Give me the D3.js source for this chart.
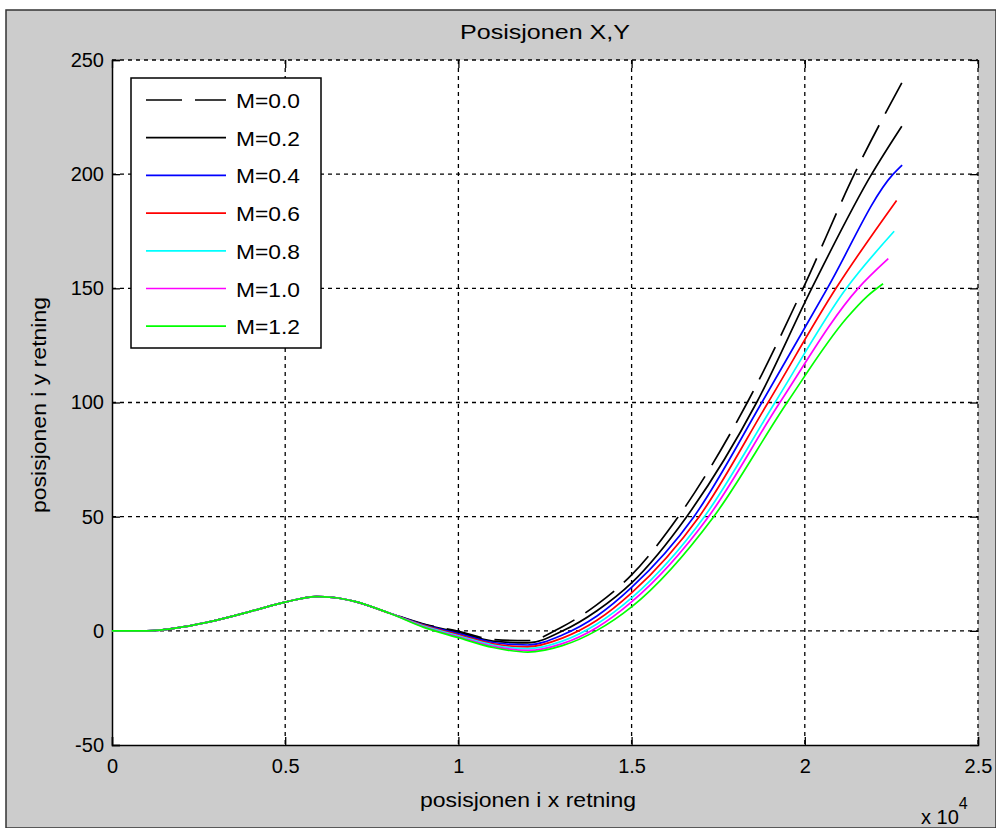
<!DOCTYPE html>
<html>
<head>
<meta charset="utf-8">
<script src="https://cdn.jsdelivr.net/npm/d3@7"></script>
<style>
  body { margin: 0; background: #fff; }
  text { font-family: "Liberation Sans", Arial, sans-serif; fill: #000; }
</style>
</head>
<body>
<script>
// Data (x in units of 10^4)

var labels = ["M=0.0", "M=0.2", "M=0.4", "M=0.6", "M=0.8", "M=1.0", "M=1.2"];
var colors = ["#000000", "#000000", "#0000ff", "#ff0000", "#00ffff", "#ff00ff", "#00ff00"];

var xTicks = [0, 0.5, 1, 1.5, 2, 2.5];
var yTicks = [-50, 0, 50, 100, 150, 200, 250];

// shared start of all paths
var trunk = [[0, 0], [0.1, 0], [0.2, 1.6], [0.3, 4.6], [0.4, 8.5], [0.5, 12.6],
  [0.59, 15], [0.64, 14.6], [0.7, 12.9], [0.8, 7.8]];

var m00 = [[0.9, 3.0], [1.0, -0.2], [1.1, -3.8], [1.2, -4.3], [1.3, 1.8], [1.4, 11.5],
  [1.5, 24.5], [1.635, 50], [1.834, 100], [1.995, 150], [2.143, 200], [2.28, 240]];
var m02 = [[0.9, 2.8], [1.0, -0.7], [1.1, -4.5], [1.2, -5.3], [1.3, -0.1], [1.4, 8.8],
  [1.5, 21], [1.659, 50], [1.861, 100], [2.02, 150], [2.193, 200], [2.28, 221]];
var m04 = [[0.9, 2.6], [1.0, -1.2], [1.1, -5.1], [1.2, -6.2], [1.3, -1.8], [1.4, 6.5],
  [1.5, 19], [1.68, 50], [1.876, 100], [2.065, 150], [2.255, 200], [2.281, 204]];
var m06 = [[0.9, 2.4], [1.0, -1.7], [1.1, -5.7], [1.2, -7.0], [1.3, -3.2], [1.4, 4.6],
  [1.5, 16.6], [1.695, 50], [1.894, 100], [2.09, 150], [2.265, 188.5]];
var m08 = [[0.9, 2.1], [1.0, -2.2], [1.1, -6.2], [1.2, -7.8], [1.3, -4.5], [1.4, 3.0],
  [1.5, 14.4], [1.71, 50], [1.914, 100], [2.12, 150], [2.258, 175]];
var m10 = [[0.9, 1.8], [1.0, -2.6], [1.1, -6.8], [1.2, -8.6], [1.3, -5.6], [1.4, 1.5],
  [1.5, 12.7], [1.722, 50], [1.928, 100], [2.154, 150], [2.241, 163]];
var m12 = [[0.9, 1.5], [1.0, -3.0], [1.1, -7.3], [1.2, -9.3], [1.3, -6.5], [1.4, 0.2],
  [1.5, 10.5], [1.737, 50], [1.949, 100], [2.121, 137], [2.18, 146.5], [2.226, 152]];

var series = [m00, m02, m04, m06, m08, m10, m12].map(function(d) {
  return trunk.concat(d);
});

/*
-----SVG-----
*/
var w = 996;
var h = 828;

var svg = d3.select("body")
  .append("svg")
  .attr("width", w)
  .attr("height", h);

// figure background
svg.append("rect")
  .attr("x", 6).attr("y", 10)
  .attr("width", w - 6).attr("height", h - 10)
  .attr("fill", "#cccccc")
  .attr("stroke", "#333")
  .attr("stroke-width", 1.5);

var pLeft = 112, pRight = 978, pTop = 60, pBottom = 745;

var x = d3.scaleLinear().domain([0, 2.5]).range([pLeft, pRight]);
var y = d3.scaleLinear().domain([-50, 250]).range([pBottom, pTop]);

svg.append("rect")
  .attr("x", pLeft).attr("y", pTop)
  .attr("width", pRight - pLeft).attr("height", pBottom - pTop)
  .attr("fill", "#fff");

/*
-----Grid-----
*/
var grid = svg.append("g")
  .attr("stroke", "#000")
  .attr("stroke-width", 1.3)
  .attr("stroke-dasharray", "4,4");

grid.selectAll(".gx")
  .data(xTicks.slice(1))
  .enter()
  .append("line")
  .attr("x1", function(d) { return x(d); })
  .attr("x2", function(d) { return x(d); })
  .attr("y1", pTop)
  .attr("y2", pBottom);

grid.selectAll(".gy")
  .data(yTicks.slice(1))
  .enter()
  .append("line")
  .attr("x1", pLeft)
  .attr("x2", pRight)
  .attr("y1", function(d) { return y(d); })
  .attr("y2", function(d) { return y(d); });

/*
-----Axes-----
*/
var plain = function(d) { return String(d); };

var xAxis = svg.append("g")
  .attr("transform", "translate(0," + pBottom + ")")
  .call(d3.axisBottom(x).tickValues(xTicks).tickSize(-8).tickPadding(14).tickFormat(plain));
var xAxisTop = svg.append("g")
  .attr("transform", "translate(0," + pTop + ")")
  .call(d3.axisTop(x).tickValues(xTicks).tickSize(-8).tickFormat(""));
var yAxis = svg.append("g")
  .attr("transform", "translate(" + pLeft + ",0)")
  .call(d3.axisLeft(y).tickValues(yTicks).tickSize(-8).tickPadding(8).tickFormat(plain));
var yAxisRight = svg.append("g")
  .attr("transform", "translate(" + pRight + ",0)")
  .call(d3.axisRight(y).tickValues(yTicks).tickSize(-8).tickFormat(""));

[xAxis, xAxisTop, yAxis, yAxisRight].forEach(function(a) {
  a.attr("font-size", 20).attr("font-family", "Liberation Sans, Arial, sans-serif");
  a.selectAll("text").attr("fill", "#000");
  a.selectAll("line").attr("stroke", "#000").attr("stroke-width", 1.3);
});
xAxisTop.select(".domain").remove();
yAxisRight.select(".domain").remove();
xAxis.select(".domain").attr("stroke", "#000").attr("stroke-width", 1.5);
yAxis.select(".domain").attr("stroke", "#000").attr("stroke-width", 1.5);

/*
-----Lines-----
*/
var line = d3.line()
  .x(function(d) { return x(d[0]); })
  .y(function(d) { return y(d[1]); })
  .curve(d3.curveMonotoneX);

svg.selectAll(".traj")
  .data(series)
  .enter()
  .append("path")
  .attr("class", "traj")
  .attr("d", line)
  .attr("fill", "none")
  .attr("stroke", function(d, i) { return colors[i]; })
  .attr("stroke-width", 1.7)
  .attr("stroke-dasharray", function(d, i) { return i == 0 ? "36,13" : null; });

/*
-----Legend-----
*/
var legend = svg.append("g");

legend.append("rect")
  .attr("x", 131).attr("y", 78)
  .attr("width", 190).attr("height", 270)
  .attr("fill", "#fff")
  .attr("stroke", "#000")
  .attr("stroke-width", 1.5);

var rows = legend.selectAll(".row")
  .data(labels)
  .enter()
  .append("g")
  .attr("transform", function(d, i) { return "translate(0," + (100 + i * 37.7) + ")"; });

rows.append("line")
  .attr("x1", 146).attr("x2", 226)
  .attr("stroke", function(d, i) { return colors[i]; })
  .attr("stroke-width", 1.7)
  .attr("stroke-dasharray", function(d, i) { return i == 0 ? "36,13" : null; });

rows.append("text")
  .attr("x", 236)
  .attr("y", 8)
  .attr("font-size", 21)
  .attr("textLength", 64)
  .attr("lengthAdjust", "spacingAndGlyphs")
  .text(function(d) { return d; });

/*
-----Labels-----
*/
svg.append("text")
  .attr("x", 545).attr("y", 39)
  .attr("text-anchor", "middle")
  .attr("font-size", 21)
  .attr("textLength", 170)
  .attr("lengthAdjust", "spacingAndGlyphs")
  .text("Posisjonen X,Y");

svg.append("text")
  .attr("x", 528).attr("y", 807)
  .attr("text-anchor", "middle")
  .attr("font-size", 21)
  .attr("textLength", 216)
  .attr("lengthAdjust", "spacingAndGlyphs")
  .text("posisjonen i x retning");

svg.append("text")
  .attr("transform", "translate(46,405) rotate(-90)")
  .attr("text-anchor", "middle")
  .attr("font-size", 21)
  .attr("textLength", 216)
  .attr("lengthAdjust", "spacingAndGlyphs")
  .text("posisjonen i y retning");

var sci = svg.append("text")
  .attr("x", 921).attr("y", 824)
  .attr("font-size", 20);
sci.append("tspan").text("x 10");
sci.append("tspan").attr("dy", -15).attr("font-size", 16).text("4");
</script>
</body>
</html>
